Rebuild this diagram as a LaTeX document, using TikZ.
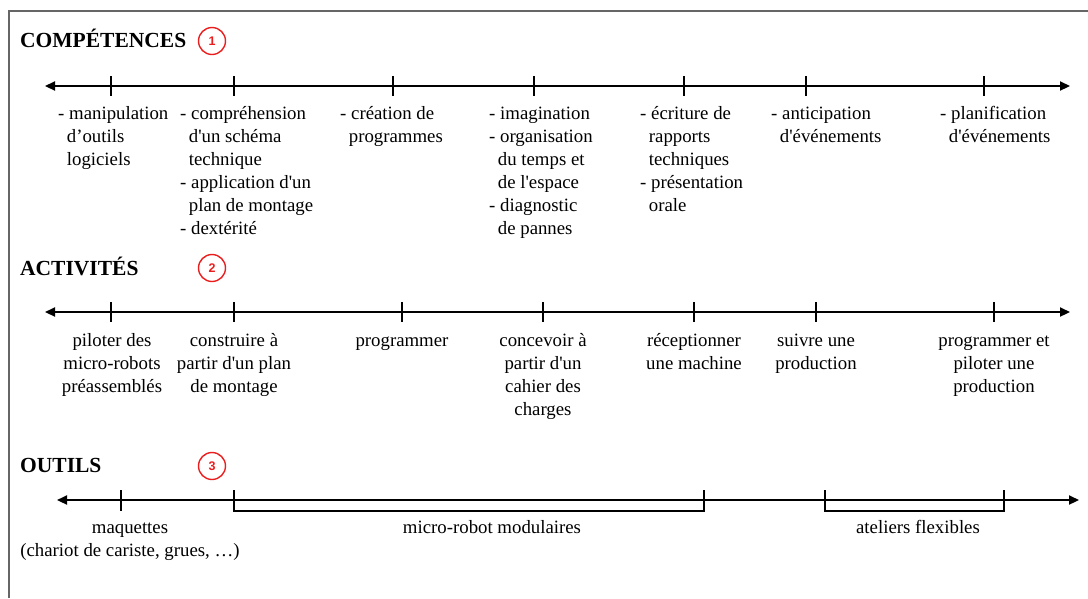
\documentclass[tikz,border=0pt]{standalone}
\usepackage{fontspec}
\setmainfont{Liberation Serif}
\newfontfamily\numfont{Liberation Sans}
\usetikzlibrary{arrows.meta}
\newcommand\ind{\hspace*{8.7pt}}
\newcommand\q{\textquotesingle}
\definecolor{numred}{RGB}{235,30,30}
\begin{document}
\begin{tikzpicture}[x=1pt,y=-1pt,
 axis/.style={line width=2.2pt, {Triangle[length=10pt,width=9pt]}-{Triangle[length=10pt,width=9pt]}},
 tick/.style={line width=1.2pt},
 brk/.style={line width=1.1pt},
 title/.style={font=\fontsize{21.5}{26}\selectfont\bfseries, anchor=base west, inner sep=0},
 num/.style={circle, draw=numred, line width=1.4pt, minimum size=27pt, inner sep=0, text=numred, font=\numfont\bfseries\fontsize{12.5}{13}\selectfont},
 comp/.style={align=left, anchor=base west, inner sep=0, font=\fontsize{18.8}{23}\selectfont},
 act/.style={align=center, anchor=base, inner sep=0, font=\fontsize{18.8}{23}\selectfont},
 frameline/.style={line width=2pt, draw=black!60}]
\useasboundingbox (0,0) rectangle (1088,598);
% frame
\coordinate (fb) at (9,598); \coordinate (fc) at (9,11); \coordinate (fr) at (1088,11);
\draw[frameline] (fb) -- (fc) -- (fr);

% titles
\node[title] (tC) at (20,47) {COMPÉTENCES};
\node[num] (n1) at (212,41) {1};
\node[title] (tA) at (20,275) {ACTIVITÉS};
\node[num] (n2) at (212,268) {2};
\node[title] (tO) at (20,472) {OUTILS};
\node[num] (n3) at (212,466) {3};

% axis 1
\coordinate (a1l) at (45,86); \coordinate (a1r) at (1070,86);
\draw[axis] (a1l) -- (a1r);
\foreach \x in {111,234,393,534,684,806,984} \draw[tick] (\x,76) -- (\x,96);

% base anchor = baseline of the last line; first line baseline at 119, step 23
\node[comp] (c1) at (58,165) {- manipulation\\\ind d’outils\\\ind logiciels};
\node[comp] (c2) at (180,234) {- compréhension\\\ind d\q un schéma\\\ind technique\\- application d\q un\\\ind plan de montage\\- dextérité};
\node[comp] (c3) at (340,142) {- création de\\\ind programmes};
\node[comp] (c4) at (489,234) {- imagination\\- organisation\\\ind du temps et\\\ind de l\q espace\\- diagnostic\\\ind de pannes};
\node[comp] (c5) at (640,211) {- écriture de\\\ind rapports\\\ind techniques\\- présentation\\\ind orale};
\node[comp] (c6) at (771,142) {- anticipation\\\ind d\q événements};
\node[comp] (c7) at (940,142) {- planification\\\ind d\q événements};

% axis 2
\coordinate (a2l) at (45,312); \coordinate (a2r) at (1070,312);
\draw[axis] (a2l) -- (a2r);
\foreach \x in {111,234,402,543,694,816,994} \draw[tick] (\x,302) -- (\x,322);

\node[act] (d1) at (112,392) {piloter des\\micro-robots\\préassemblés};
\node[act] (d2) at (234,392) {construire à\\partir d\q un plan\\de montage};
\node[act] (d3) at (402,346) {programmer};
\node[act] (d4) at (543,415) {concevoir à\\partir d\q un\\cahier des\\charges};
\node[act] (d5) at (694,369) {réceptionner\\une machine};
\node[act] (d6) at (816,369) {suivre une\\production};
\node[act] (d7) at (994,392) {programmer et\\piloter une\\production};

% axis 3
\coordinate (a3l) at (57,500); \coordinate (a3r) at (1079,500);
\draw[axis] (a3l) -- (a3r);
\draw[tick] (121,490) -- (121,511);
\coordinate (b1a) at (234,490); \coordinate (b1b) at (234,511);
\coordinate (b1c) at (704,511); \coordinate (b1d) at (704,490);
\draw[brk] (b1a) -- (b1b) -- (b1c) -- (b1d);
\coordinate (b2a) at (825,490); \coordinate (b2b) at (825,511);
\coordinate (b2c) at (1004,511); \coordinate (b2d) at (1004,490);
\draw[brk] (b2a) -- (b2b) -- (b2c) -- (b2d);

\node[act] (o1) at (130,556) {maquettes\\(chariot de cariste, grues, …)};
\node[act] (o2) at (492,533) {micro-robot modulaires};
\node[act] (o3) at (918,533) {ateliers flexibles};
\end{tikzpicture}
\end{document}
